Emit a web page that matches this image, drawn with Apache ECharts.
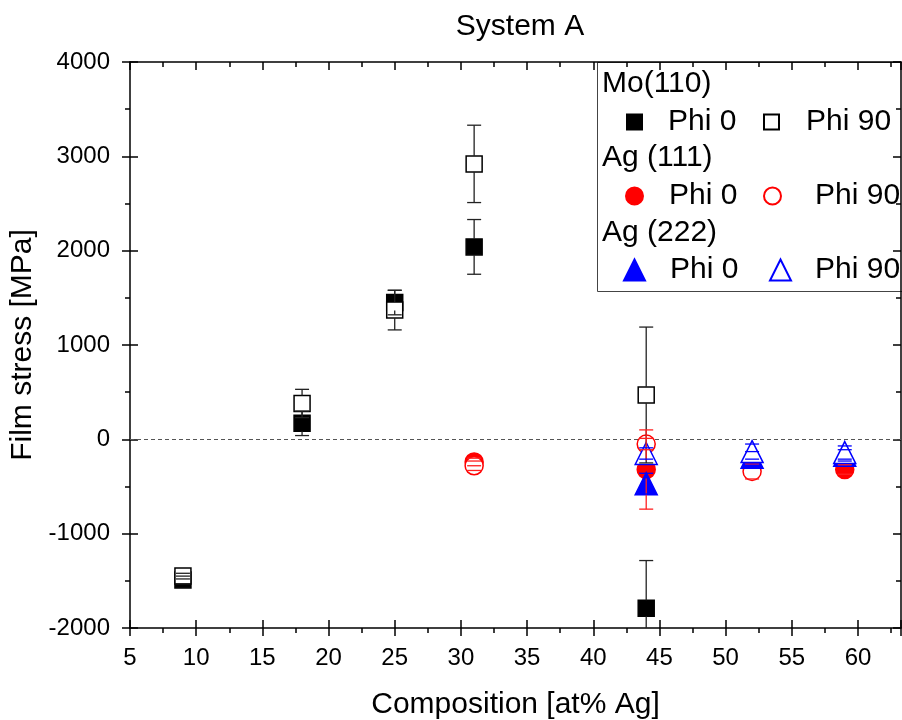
<!DOCTYPE html>
<html><head><meta charset="utf-8">
<script src="https://cdn.jsdelivr.net/npm/echarts@6/dist/echarts.min.js"></script>
<style>html,body{margin:0;padding:0;background:#fff}#c{width:902px;height:720px}</style>
</head><body><div id="c"></div>
<script>
// ---- data ----
const groups = ['Mo(110)', 'Ag (111)', 'Ag (222)'];
const phases = ['Phi 0', 'Phi 90'];

const moX = [9, 18, 25, 31, 44];
const moPhi0 = [-1490, 170, 1450, 2040, -1790];
const moPhi0Err = [40, 130, 130, 290, 505];
const moPhi90 = [-1450, 380, 1370, 2920, 470];
const moPhi90Err = [30, 150, 210, 410, 720];

const ag111Phi0X = [31, 44, 59];
const ag111Phi0 = [-240, -320, -320];
const ag111Phi0Err = [40, 420, 50];
const ag111Phi90X = [31, 44, 52];
const ag111Phi90 = [-280, -50, -340];
const ag111Phi90Err = [50, 60, 80];

const ag222X = [44, 52, 59];
const ag222Phi0 = [-470, -190, -170];
const ag222Phi0Err = [110, 60, 60];
const ag222Phi90 = [-150, -130, -140];
const ag222Phi90Err = [60, 80, 70];

const xTicks = [5, 10, 15, 20, 25, 30, 35, 40, 45, 50, 55, 60];
const yTicks = [-2000, -1000, 0, 1000, 2000, 3000, 4000];
const xMax = 63.25;

// ---- build ----
const FONT = 'Liberation Sans, Arial, sans-serif';
const BIG = 30;
const zip = (xs, ys) => xs.map((x, i) => [x, ys[i]]);
const zip3 = (xs, ys, es) => xs.map((x, i) => [x, ys[i], es[i]]);

const defs = [
  {g:0, p:0, x:moX, y:moPhi0, e:moPhi0Err, symbol:'rect', size:16, color:'#000', fill:'#000', ecol:'#222'},
  {g:0, p:1, x:moX, y:moPhi90, e:moPhi90Err, symbol:'rect', size:16, color:'#000', fill:'#fff', ecol:'#222'},
  {g:1, p:0, x:ag111Phi0X, y:ag111Phi0, e:ag111Phi0Err, symbol:'circle', size:18, color:'#ff0000', fill:'#ff0000', ecol:'#ff2020'},
  {g:1, p:1, x:ag111Phi90X, y:ag111Phi90, e:ag111Phi90Err, symbol:'circle', size:18, color:'#ff0000', fill:'#fff', ecol:'#ff2020'},
  {g:2, p:0, x:ag222X, y:ag222Phi0, e:ag222Phi0Err, symbol:'triangle', size:22, color:'#0000ff', fill:'#0000ff', ecol:'#0000ff'},
  {g:2, p:1, x:ag222X, y:ag222Phi90, e:ag222Phi90Err, symbol:'triangle', size:22, color:'#0000ff', fill:'#fff', ecol:'#0000ff'}
];

const series = [];
defs.forEach((d, i) => {
  const name = groups[d.g] + '|' + phases[d.p];
  const s = {
    name: name, type: 'scatter', xAxisIndex: 0, yAxisIndex: 0,
    symbol: d.symbol, symbolSize: d.size, z: 2 + i * 0.01,
    itemStyle: {color: d.fill, borderColor: d.color, borderWidth: 1.5, opacity: 1},
    emphasis: {disabled: true},
    data: zip(d.x, d.y)
  };
  if (i === 0) {
    s.markLine = {
      silent: true, symbol: ['none', 'none'], label: {show: false},
      lineStyle: {color: '#555', type: [4, 3], width: 1},
      data: [{yAxis: 0}], animation: false, z: 1
    };
  }
  series.push(s);
  const half = d.size / 2;
  series.push({
    type: 'custom', xAxisIndex: 0, yAxisIndex: 0, clip: true, z: 3 + i * 0.01,
    silent: true,
    data: zip3(d.x, d.y, d.e),
    renderItem: (params, api) => {
      const x = api.value(0), y = api.value(1), e = api.value(2);
      const c = api.coord([x, y]);
      const t = api.coord([x, y + e]);
      const b = api.coord([x, y - e]);
      const st = {stroke: d.ecol, lineWidth: 1.3};
      const ch = [];
      if (t[1] < c[1] - half) ch.push({type: 'line', shape: {x1: c[0], y1: c[1] - half, x2: c[0], y2: t[1]}, style: st});
      if (b[1] > c[1] + half) ch.push({type: 'line', shape: {x1: c[0], y1: c[1] + half, x2: c[0], y2: b[1]}, style: st});
      ch.push({type: 'line', shape: {x1: c[0] - 7, y1: t[1], x2: c[0] + 7, y2: t[1]}, style: st});
      ch.push({type: 'line', shape: {x1: c[0] - 7, y1: b[1], x2: c[0] + 7, y2: b[1]}, style: st});
      return {type: 'group', children: ch};
    }
  });
});

// legends: one per item for precise placement
const legendPos = [
  {left: 626, top: 106, pad: 21},
  {left: 763, top: 106, pad: 22},
  {left: 625, top: 180, pad: 21},
  {left: 763, top: 180, pad: 29},
  {left: 623, top: 254, pad: 20},
  {left: 769, top: 254, pad: 19}
];
const legends = defs.map((d, i) => ({
  data: [groups[d.g] + '|' + phases[d.p]],
  left: legendPos[i].left, top: legendPos[i].top, padding: 0, z: 10,
  itemWidth: d.size - 1, itemHeight: d.size - 1, selectedMode: false,
  formatter: n => n.split('|')[1],
  textStyle: {fontSize: BIG, fontFamily: FONT, color: '#000', padding: [0, 0, 0, legendPos[i].pad], lineHeight: 32}
}));

const headerY = [86, 160, 235];
const graphic = {
  z: 8,
  elements: [
    {type: 'rect', left: 597, top: 62, z: 0, shape: {width: 310, height: 229}, style: {fill: '#fff', stroke: '#444', lineWidth: 1}}
  ].concat(groups.map((g, i) => ({
    type: 'text', left: 602, top: headerY[i] - 17, z: 1,
    style: {text: g, font: BIG + 'px ' + FONT, fill: '#000'}
  })))
};

const axisCommon = {
  type: 'value', splitLine: {show: false}
};
const black = {color: '#000', width: 1.5};
const plain = v => String(v);

const option = {
  animation: false,
  backgroundColor: '#fff',
  textStyle: {fontFamily: FONT},
  title: {text: 'System A', left: 515, top: 7, textAlign: 'center',
    textStyle: {fontSize: BIG, fontWeight: 'normal', color: '#000', fontFamily: FONT}},
  grid: {left: 130, right: 1, top: 62, bottom: 92, containLabel: false, outerBoundsMode: 'none'},
  legend: legends,
  graphic: graphic,
  xAxis: [
    Object.assign({}, axisCommon, {
      min: xTicks[0], max: xMax, interval: 5, position: 'bottom',
      axisLine: {show: true, onZero: false, lineStyle: black},
      axisTick: {show: true, inside: false, length: 8, lineStyle: black},
      minorTick: {show: true, splitNumber: 2, length: 5, lineStyle: black},
      axisLabel: {fontSize: 24, color: '#000', margin: 18, showMaxLabel: false, fontFamily: FONT, formatter: plain},
      name: 'Composition [at% Ag]', nameLocation: 'middle', nameGap: 62,
      nameTextStyle: {fontSize: BIG, color: '#000', fontFamily: FONT}
    }),
    Object.assign({}, axisCommon, {
      min: xTicks[0], max: xMax, interval: 5, position: 'bottom',
      axisLine: {show: false, onZero: false},
      axisTick: {show: true, inside: true, length: 8, lineStyle: black},
      axisLabel: {show: false}
    }),
    Object.assign({}, axisCommon, {
      min: xTicks[0], max: xMax, interval: 5, position: 'top',
      axisLine: {show: true, onZero: false, lineStyle: black},
      axisTick: {show: true, inside: true, length: 8, lineStyle: black},
      minorTick: {show: true, splitNumber: 2, length: 5, lineStyle: black},
      axisLabel: {show: false}
    })
  ],
  yAxis: [
    Object.assign({}, axisCommon, {
      min: yTicks[0], max: yTicks[yTicks.length - 1], interval: 1000, position: 'left',
      axisLine: {show: true, onZero: false, lineStyle: black},
      axisTick: {show: true, inside: false, length: 8, lineStyle: black},
      minorTick: {show: true, splitNumber: 2, length: 5, lineStyle: black},
      axisLabel: {fontSize: 24, color: '#000', margin: 20, fontFamily: FONT, formatter: plain},
      name: 'Film stress [MPa]', nameLocation: 'middle', nameGap: 81,
      nameTextStyle: {fontSize: BIG, color: '#000', fontFamily: FONT}
    }),
    Object.assign({}, axisCommon, {
      min: yTicks[0], max: yTicks[yTicks.length - 1], interval: 1000, position: 'left',
      axisLine: {show: false, onZero: false},
      axisTick: {show: true, inside: true, length: 8, lineStyle: black},
      axisLabel: {show: false}
    }),
    Object.assign({}, axisCommon, {
      min: yTicks[0], max: yTicks[yTicks.length - 1], interval: 1000, position: 'right',
      axisLine: {show: true, onZero: false, lineStyle: black},
      axisTick: {show: true, inside: true, length: 8, lineStyle: black},
      minorTick: {show: true, splitNumber: 2, length: 5, lineStyle: black},
      axisLabel: {show: false}
    })
  ],
  series: series
};

const chart = echarts.init(document.getElementById('c'), null, {renderer: 'canvas'});
chart.setOption(option);
</script>
</body></html>
